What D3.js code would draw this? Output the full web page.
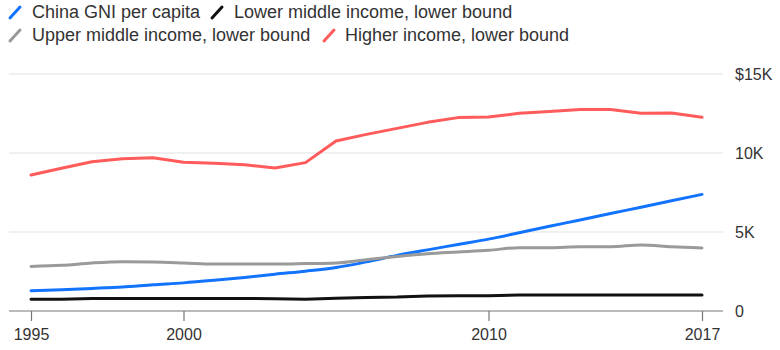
<!DOCTYPE html>
<html>
<head>
<meta charset="utf-8">
<script src="https://cdn.jsdelivr.net/npm/d3@7"></script>
<style>
  html, body { margin: 0; padding: 0; background: #fff; }
  svg { display: block; font-family: "Liberation Sans", Arial, Helvetica, sans-serif; }
</style>
</head>
<body>
<svg id="chart" width="780" height="350"></svg>
<script>
const years = [1995,1996,1997,1998,1999,2000,2001,2002,2003,2004,2005,2006,2007,2008,2009,2010,2011,2012,2013,2014,2015,2016,2017];
const chinaGNI   = [1285,1350,1430,1520,1660,1780,1940,2120,2330,2520,2750,3110,3520,3870,4210,4550,4950,5360,5760,6170,6570,6980,7380];
const lowerMiddle= [740,745,790,790,790,790,790,790,780,740,800,860,880,950,960,960,1010,1020,1020,1020,1020,1020,1020];
const upperMiddle= [2820,2890,3040,3120,3100,3040,2970,2970,2970,3000,3040,3250,3450,3620,3730,3840,4010,4010,4070,4070,4180,4070,3990];
const highIncome = [8610,9030,9450,9640,9700,9410,9350,9260,9050,9390,10760,11180,11560,11940,12240,12280,12510,12620,12760,12760,12510,12530,12260];
const seriesNames = ["China GNI per capita","Lower middle income, lower bound","Upper middle income, lower bound","Higher income, lower bound"];
const seriesColors = ["#1273ff","#111111","#9a9a9a","#ff5b5b"];
const yTicks = [0,5000,10000,15000];
const yTickLabels = ["0","5K","10K","$15K"];
const xTicks = [1995,2000,2010,2017];

const seriesValues = [chinaGNI, lowerMiddle, upperMiddle, highIncome];
const seriesSmooth = [true, false, true, false];
const svg = d3.select("#chart");

const x = d3.scaleLinear().domain([1995,2017]).range([31,702]);
const y = d3.scaleLinear().domain([0,15000]).range([311,74]);

// gridlines
svg.append("g").selectAll("line")
  .data(yTicks.filter(d => d > 0))
  .join("line")
  .attr("x1", 9).attr("x2", 723)
  .attr("y1", d => y(d)).attr("y2", d => y(d))
  .attr("stroke", "#ebebeb").attr("stroke-width", 1.5);

// y labels
svg.append("g").selectAll("text")
  .data(yTicks)
  .join("text")
  .attr("x", 735)
  .attr("y", d => y(d) + 6)
  .attr("font-size", 16)
  .attr("fill", "#333")
  .text((d, i) => yTickLabels[i]);

// x axis
const xAxis = d3.axisBottom(x).tickValues(xTicks).tickFormat(d3.format("d")).tickSize(10).tickPadding(8);
const gx = svg.append("g").attr("transform", `translate(0,${y(0)})`).call(xAxis);
gx.select(".domain").remove();
gx.selectAll(".tick line").attr("stroke", "#777").attr("stroke-width", 1.2);
gx.selectAll(".tick text").attr("font-size", 16).attr("fill", "#333")
  .attr("font-family", "'Liberation Sans', Arial, sans-serif");

// series lines
const lineSmooth = d3.line().x((d, i) => x(years[i])).y(d => y(d)).curve(d3.curveMonotoneX);
const lineStraight = d3.line().x((d, i) => x(years[i])).y(d => y(d)).curve(d3.curveLinear);

svg.append("g").selectAll("path")
  .data(seriesValues)
  .join("path")
  .attr("d", (d, i) => (seriesSmooth[i] ? lineSmooth : lineStraight)(d))
  .attr("fill", "none")
  .attr("stroke", (d, i) => seriesColors[i])
  .attr("stroke-width", 3)
  .attr("stroke-linejoin", "round")
  .attr("stroke-linecap", "round");

// baseline
svg.append("line")
  .attr("x1", 9).attr("x2", 723)
  .attr("y1", y(0)).attr("y2", y(0))
  .attr("stroke", "#777").attr("stroke-width", 1.2);

// legend
const legendPos = [
  {sx: 10, tx: 32, ty: 18},
  {sx: 212, tx: 234, ty: 18},
  {sx: 10, tx: 32, ty: 41},
  {sx: 324, tx: 345, ty: 41}
];
const lg = svg.append("g").selectAll("g")
  .data(seriesNames)
  .join("g");
lg.append("line")
  .attr("x1", (d, i) => legendPos[i].sx)
  .attr("x2", (d, i) => legendPos[i].sx + 10)
  .attr("y1", (d, i) => legendPos[i].ty)
  .attr("y2", (d, i) => legendPos[i].ty - 11)
  .attr("stroke", (d, i) => seriesColors[i])
  .attr("stroke-width", 3)
  .attr("stroke-linecap", "round");
lg.append("text")
  .attr("x", (d, i) => legendPos[i].tx)
  .attr("y", (d, i) => legendPos[i].ty)
  .attr("font-size", 18)
  .attr("fill", "#333")
  .text(d => d);
</script>
</body>
</html>
